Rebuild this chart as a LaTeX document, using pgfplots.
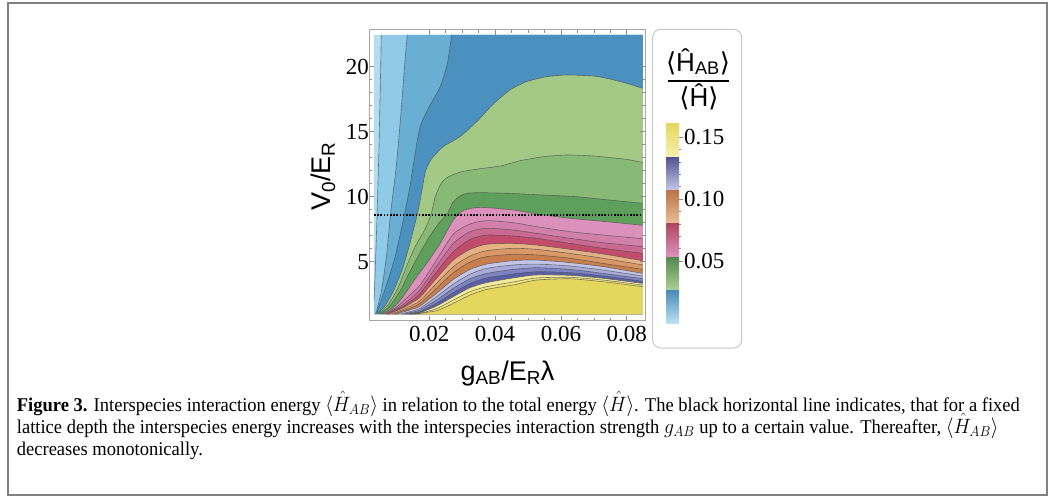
\documentclass[border=0pt]{standalone}
\usepackage{fontspec}
\usepackage{graphicx}
\usepackage{pgfplots}
\pgfplotsset{compat=1.18}
\usepackage{pgfplotstable}
\setmainfont{Liberation Serif}
\setsansfont{Liberation Sans}
\newfontfamily\dejavu{DejaVu Sans}

\definecolor{b1}{HTML}{B3DEF1}\definecolor{b2}{HTML}{8FCBE6}\definecolor{b3}{HTML}{69AFD3}\definecolor{b4}{HTML}{4A91BF}
\definecolor{g1}{HTML}{A4C987}\definecolor{g2}{HTML}{89B977}\definecolor{g3}{HTML}{5E9F5B}
\definecolor{p1}{HTML}{DC91BC}\definecolor{p2}{HTML}{D27FAA}\definecolor{p3}{HTML}{CA6A93}\definecolor{p4}{HTML}{C24C6A}
\definecolor{o1}{HTML}{E6B183}\definecolor{o2}{HTML}{DA9867}\definecolor{o3}{HTML}{C97E4E}
\definecolor{u1}{HTML}{C3C6E7}\definecolor{u2}{HTML}{A5AAD8}\definecolor{u3}{HTML}{7E83C2}\definecolor{u4}{HTML}{5A60A8}
\definecolor{y1}{HTML}{F4EC9C}\definecolor{y2}{HTML}{EDE27C}\definecolor{y3}{HTML}{E5D65E}

\pgfplotstableread{
x y
0.0032 2.05
0.0036 4.62
0.0042 9.23
0.0047 13.85
0.0051 18.46
0.0054 22.44
}\Ca
\pgfplotstableread{
x y
0.0036 0.98
0.0039 1.15
0.0054 2.69
0.0069 5.26
0.0083 8.85
0.0100 12.44
0.0115 16.79
0.0125 20.13
0.0133 22.44
}\Cb
\pgfplotstableread{
x y
0.0040 0.98
0.0045 1.41
0.0068 3.08
0.0096 5.38
0.0121 8.21
0.0141 10.77
0.0157 13.33
0.0172 15.38
0.0197 16.79
0.0233 18.46
0.0255 20.26
0.0268 22.44
}\Cc
\pgfplotstableread{
x y
0.0042 0.98
0.0065 1.6
0.0090 2.7
0.0118 4.4
0.0142 6.5
0.0163 8.59
0.0176 10.26
0.0188 11.92
0.0204 12.82
0.0222 13.33
0.0242 13.85
0.0293 14.62
0.0344 15.77
0.0395 17.13
0.0445 18.21
0.0496 18.85
0.0557 19.23
0.0618 19.36
0.0699 19.28
0.0749 19.05
0.0800 18.72
0.0849 18.33
}\Cd
\pgfplotstableread{
x y
0.0045 0.98
0.0075 1.7
0.0105 3.0
0.0135 4.9
0.0160 6.3
0.0185 7.4
0.0205 8.6
0.0218 10.00
0.0235 10.97
0.0255 11.49
0.0297 11.92
0.0348 12.13
0.0415 12.36
0.0476 12.77
0.0547 13.08
0.0618 13.21
0.0699 13.13
0.0800 12.87
0.0849 12.62
}\Ce
\pgfplotstableread{
x y
0.0049 0.98
0.0080 1.6
0.0110 2.7
0.0140 4.2
0.0170 5.6
0.0200 6.9
0.0230 8.0
0.0255 8.7
0.0270 9.49
0.0290 10.00
0.0314 10.26
0.0354 10.31
0.0445 10.26
0.0547 10.13
0.0648 10.00
0.0749 9.74
0.0849 9.49
}\Cf
\pgfplotstableread{
x y
0.0055 0.98
0.0092 1.5
0.0120 2.3
0.0152 3.5
0.0192 4.87
0.0233 6.41
0.0273 8.21
0.0303 8.93
0.0354 9.18
0.0455 8.98
0.0526 8.67
0.0628 8.34
0.0729 8.10
0.0849 7.80
}\Cg
\pgfplotstableread{
x y
0.0059 0.98
0.0100 1.5
0.0135 2.3
0.0172 3.21
0.0222 5.13
0.0273 7.13
0.0324 7.90
0.0374 8.16
0.0455 8.00
0.0526 7.70
0.0628 7.31
0.0729 7.05
0.0849 6.77
}\Ch
\pgfplotstableread{
x y
0.0065 0.98
0.0108 1.5
0.0140 2.1
0.0172 2.87
0.0222 4.67
0.0273 6.41
0.0324 7.31
0.0374 7.57
0.0455 7.44
0.0526 7.18
0.0628 6.80
0.0729 6.46
0.0849 6.16
}\Ci
\pgfplotstableread{
x y
0.0071 0.98
0.0116 1.5
0.0145 2.0
0.0172 2.57
0.0222 4.23
0.0273 5.77
0.0324 6.72
0.0374 7.05
0.0455 6.98
0.0526 6.80
0.0628 6.41
0.0729 6.03
0.0849 5.64
}\Cj
\pgfplotstableread{
x y
0.0077 0.98
0.0124 1.5
0.0150 1.9
0.0172 2.26
0.0222 3.72
0.0273 5.13
0.0324 5.95
0.0374 6.34
0.0455 6.41
0.0526 6.28
0.0628 5.95
0.0729 5.59
0.0849 5.08
}\Ck
\pgfplotstableread{
x y
0.0085 0.98
0.0132 1.45
0.0155 1.75
0.0172 2.00
0.0222 3.33
0.0273 4.62
0.0324 5.44
0.0374 5.85
0.0455 6.03
0.0526 5.95
0.0628 5.64
0.0729 5.26
0.0849 4.75
}\Cl
\pgfplotstableread{
x y
0.0092 0.98
0.0140 1.4
0.0172 1.80
0.0222 2.95
0.0273 4.16
0.0324 4.98
0.0374 5.39
0.0455 5.57
0.0526 5.52
0.0628 5.26
0.0729 4.87
0.0849 4.41
}\Cm
\pgfplotstableread{
x y
0.0101 0.98
0.0148 1.35
0.0172 1.59
0.0222 2.57
0.0273 3.64
0.0324 4.41
0.0374 4.82
0.0455 5.08
0.0526 5.13
0.0628 4.93
0.0729 4.62
0.0849 4.10
}\Cn
\pgfplotstableread{
x y
0.0114 0.98
0.0155 1.25
0.0172 1.41
0.0222 2.31
0.0273 3.28
0.0324 4.05
0.0374 4.49
0.0455 4.75
0.0526 4.82
0.0628 4.67
0.0729 4.36
0.0849 3.90
}\Co
\pgfplotstableread{
x y
0.0123 0.98
0.0160 1.18
0.0172 1.28
0.0222 2.05
0.0273 2.95
0.0324 3.69
0.0374 4.10
0.0455 4.41
0.0526 4.54
0.0628 4.41
0.0729 4.10
0.0849 3.69
}\Cp
\pgfplotstableread{
x y
0.0132 0.98
0.0172 1.16
0.0222 1.80
0.0273 2.62
0.0324 3.33
0.0374 3.75
0.0455 4.05
0.0526 4.23
0.0628 4.16
0.0729 3.90
0.0849 3.49
}\Cq
\pgfplotstableread{
x y
0.0141 0.98
0.0172 1.08
0.0222 1.59
0.0273 2.31
0.0324 3.00
0.0374 3.39
0.0455 3.75
0.0526 3.98
0.0628 3.95
0.0729 3.72
0.0849 3.33
}\Cr
\pgfplotstableread{
x y
0.0147 0.98
0.0172 1.03
0.0222 1.39
0.0273 2.05
0.0324 2.70
0.0374 3.08
0.0455 3.44
0.0526 3.75
0.0628 3.80
0.0729 3.59
0.0849 3.21
}\Cs
\pgfplotstableread{
x y
0.0153 0.98
0.0222 1.23
0.0273 1.80
0.0324 2.44
0.0374 2.87
0.0455 3.21
0.0526 3.59
0.0628 3.69
0.0729 3.46
0.0849 3.08
}\Ct

\newcommand{\bandTop}[2]{\addplot[fill=#2, draw=none, smooth, tension=0.4] table {#1} -- (axis cs:0.0849,22.44) -- (axis cs:0.0849,0.98) -- (axis cs:0.0032,0.98) -- cycle;}
\newcommand{\bandRight}[2]{\addplot[fill=#2, draw=none, smooth, tension=0.4] table {#1} -- (axis cs:0.0849,0.98) -- cycle;}
\newcommand{\cntline}[1]{\addplot[draw=black!70, draw opacity=0.7, line width=0.6pt, smooth, tension=0.4] table {#1};}
\newcommand{\tickfont}{\fontsize{23}{23}\selectfont}
\newcommand{\capfont}{\fontsize{19.5}{22}\selectfont}
\newcommand{\capA}{\textbf{Figure 3.} Interspecies interaction energy $\langle\hat{H}_{AB}\rangle$ in relation to the total energy $\langle\hat{H}\rangle$. The black horizontal line indicates, that for a fixed}
\newcommand{\capB}{lattice depth the interspecies energy increases with the interspecies interaction strength $g_{AB}$ up to a certain value. Thereafter, $\langle\hat{H}_{AB}\rangle$}
\newcommand{\capC}{decreases monotonically.}
\newsavebox\capbox

\begin{document}
\sbox\capbox{\capfont\capA}%
\pgfmathsetmacro{\capsc}{1003/\wd\capbox}%
\begin{tikzpicture}
\useasboundingbox (0pt,0pt) rectangle (1050pt,-498pt);
\draw[black!50, line width=1.4pt] (8pt,-3pt) rectangle (1047pt,-495pt);

\begin{axis}[at={(369.3pt,-320.5pt)}, anchor=south west, scale only axis,
  width=275.7pt, height=291pt,
  xmin=0.00176, xmax=0.08556, ymin=0.48, ymax=22.86,
  scaled x ticks=false, scaled y ticks=false,
  xtick={0.02,0.04,0.06,0.08}, xticklabels={0.02,0.04,0.06,0.08},
  ytick={5,10,15,20}, yticklabels={5,10,15,20},
  minor x tick num=3, minor y tick num=4,
  tick align=inside, major tick length=5pt, minor tick length=3pt,
  axis line style={draw=black!35, line width=0.8pt},
  tick style={black!45, line width=0.6pt},
  tick label style={font=\tickfont},
  xticklabel style={yshift=-2pt},
  yticklabel style={xshift=3pt},
  axis on top]
\addplot[fill=b1, draw=none] coordinates {(0.0032,0.98) (0.0849,0.98) (0.0849,22.44) (0.0032,22.44)} -- cycle;
\bandTop{\Ca}{b2}
\bandTop{\Cb}{b3}
\bandTop{\Cc}{b4}
\bandRight{\Cd}{g1}
\bandRight{\Ce}{g2}
\bandRight{\Cf}{g3}
\bandRight{\Cg}{p1}
\bandRight{\Ch}{p2}
\bandRight{\Ci}{p3}
\bandRight{\Cj}{p4}
\bandRight{\Ck}{o1}
\bandRight{\Cl}{o2}
\bandRight{\Cm}{o3}
\bandRight{\Cn}{u1}
\bandRight{\Co}{u2}
\bandRight{\Cp}{u3}
\bandRight{\Cq}{u4}
\bandRight{\Cr}{y1}
\bandRight{\Cs}{y2}
\bandRight{\Ct}{y3}
\cntline{\Ca}\cntline{\Cb}\cntline{\Cc}\cntline{\Cd}\cntline{\Ce}\cntline{\Cf}\cntline{\Cg}
\cntline{\Ch}\cntline{\Ci}\cntline{\Cj}\cntline{\Ck}\cntline{\Cl}\cntline{\Cm}\cntline{\Cn}
\cntline{\Co}\cntline{\Cp}\cntline{\Cq}\cntline{\Cr}\cntline{\Cs}\cntline{\Ct}
\addplot[black, line width=1.6pt, dash pattern=on 1.6pt off 1.6pt] coordinates {(0.0032,8.59) (0.0849,8.59)};
\end{axis}

% colour bar
\draw[black!22, line width=1pt, rounded corners=8pt] (652.7pt,-29.3pt) rectangle (741.7pt,-348pt);
\begin{axis}[at={(666pt,-323pt)}, anchor=south west, scale only axis,
  width=13pt, height=200pt, xmin=0, xmax=1, ymin=0, ymax=0.1615,
  scaled y ticks=false,
  xtick=\empty, ytick={0.05,0.10,0.15}, yticklabels={0.05,0.10,0.15},
  ytick pos=right, minor y tick num=4, tick align=outside,
  major tick length=4pt, minor tick length=2pt,
  axis line style={draw=none}, tick style={black!45, line width=0.6pt},
  yticklabel style={font=\tickfont, inner sep=1pt}]
\addplot[draw=none, bottom color=b1!90!white, top color=b4!95!black] coordinates {(0,0) (1,0) (1,0.0269) (0,0.0269)} -- cycle;
\addplot[draw=none, bottom color=g1!90!white, top color=g3!85!black] coordinates {(0,0.0269) (1,0.0269) (1,0.0538) (0,0.0538)} -- cycle;
\addplot[draw=none, bottom color=p1, top color=p4!90!black] coordinates {(0,0.0538) (1,0.0538) (1,0.0808) (0,0.0808)} -- cycle;
\addplot[draw=none, bottom color=o1!85!white, top color=o3!92!black] coordinates {(0,0.0808) (1,0.0808) (1,0.1077) (0,0.1077)} -- cycle;
\addplot[draw=none, bottom color=u1, top color=u4!85!black] coordinates {(0,0.1077) (1,0.1077) (1,0.1346) (0,0.1346)} -- cycle;
\addplot[draw=none, bottom color=y1!80!white, top color=y3] coordinates {(0,0.1346) (1,0.1346) (1,0.1615) (0,0.1615)} -- cycle;
\end{axis}
\node[anchor=base, inner sep=0, font=\sffamily\fontsize{26}{26}\selectfont] at (698pt,-71pt) {{\dejavu ⟨}Ĥ\textsubscript{AB}{\dejavu ⟩}};
\draw[black, line width=1.3pt] (668pt,-81pt) -- (729pt,-81pt);
\node[anchor=base, inner sep=0, font=\sffamily\fontsize{26}{26}\selectfont] at (699pt,-106pt) {{\dejavu ⟨}Ĥ{\dejavu ⟩}};

% axis labels
\node[rotate=90, anchor=center, inner sep=0, font=\sffamily\fontsize{27}{27}\selectfont] at (323pt,-176.5pt) {V\textsubscript{0}/E\textsubscript{R}};
\node[anchor=base, inner sep=0, font=\sffamily\fontsize{27}{27}\selectfont] at (507.5pt,-380pt) {g\textsubscript{AB}/E\textsubscript{R}λ};

% caption
\node[anchor=base west, inner sep=0, font=\capfont] at (16.7pt,-411pt) {\scalebox{\capsc}[1]{\capA}};
\node[anchor=base west, inner sep=0, font=\capfont] at (16.7pt,-433pt) {\scalebox{\capsc}[1]{\capB}};
\node[anchor=base west, inner sep=0, font=\capfont] at (16.7pt,-455pt) {\scalebox{\capsc}[1]{\capC}};
\end{tikzpicture}
\end{document}
